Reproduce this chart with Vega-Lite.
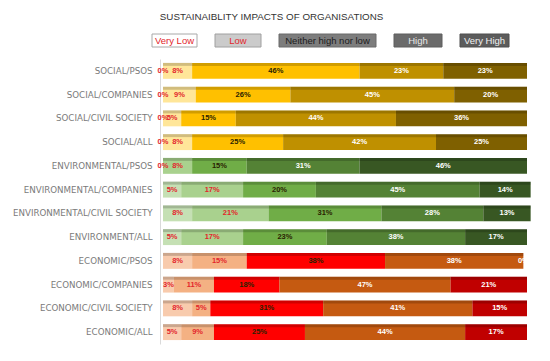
{
  "$schema": "https://vega.github.io/schema/vega-lite/v6.json",
  "padding": {"left": 12, "top": 11, "right": 5, "bottom": 5},
  "background": "white",
  "title": {"text": "SUSTAINAIBLITY IMPACTS OF ORGANISATIONS", "font": "Liberation Sans", "fontSize": 9.8, "fontWeight": "normal", "color": "#333333", "anchor": "middle", "offset": 12},
  "datasets": {
    "legend": [{"level": "Very Low"}, {"level": "Low"}, {"level": "Neither high nor low"}, {"level": "High"}, {"level": "Very High"}],
    "impacts": [
      {"row": "SOCIAL/PSOS", "group": "Social", "level": "Very Low", "n": 1, "value": 0},
      {"row": "SOCIAL/PSOS", "group": "Social", "level": "Low", "n": 2, "value": 8},
      {"row": "SOCIAL/PSOS", "group": "Social", "level": "Neither high nor low", "n": 3, "value": 46},
      {"row": "SOCIAL/PSOS", "group": "Social", "level": "High", "n": 4, "value": 23},
      {"row": "SOCIAL/PSOS", "group": "Social", "level": "Very High", "n": 5, "value": 23},
      {"row": "SOCIAL/COMPANIES", "group": "Social", "level": "Very Low", "n": 1, "value": 0},
      {"row": "SOCIAL/COMPANIES", "group": "Social", "level": "Low", "n": 2, "value": 9},
      {"row": "SOCIAL/COMPANIES", "group": "Social", "level": "Neither high nor low", "n": 3, "value": 26},
      {"row": "SOCIAL/COMPANIES", "group": "Social", "level": "High", "n": 4, "value": 45},
      {"row": "SOCIAL/COMPANIES", "group": "Social", "level": "Very High", "n": 5, "value": 20},
      {"row": "SOCIAL/CIVIL SOCIETY", "group": "Social", "level": "Very Low", "n": 1, "value": 0},
      {"row": "SOCIAL/CIVIL SOCIETY", "group": "Social", "level": "Low", "n": 2, "value": 5},
      {"row": "SOCIAL/CIVIL SOCIETY", "group": "Social", "level": "Neither high nor low", "n": 3, "value": 15},
      {"row": "SOCIAL/CIVIL SOCIETY", "group": "Social", "level": "High", "n": 4, "value": 44},
      {"row": "SOCIAL/CIVIL SOCIETY", "group": "Social", "level": "Very High", "n": 5, "value": 36},
      {"row": "SOCIAL/ALL", "group": "Social", "level": "Very Low", "n": 1, "value": 0},
      {"row": "SOCIAL/ALL", "group": "Social", "level": "Low", "n": 2, "value": 8},
      {"row": "SOCIAL/ALL", "group": "Social", "level": "Neither high nor low", "n": 3, "value": 25},
      {"row": "SOCIAL/ALL", "group": "Social", "level": "High", "n": 4, "value": 42},
      {"row": "SOCIAL/ALL", "group": "Social", "level": "Very High", "n": 5, "value": 25},
      {"row": "ENVIRONMENTAL/PSOS", "group": "Environmental", "level": "Very Low", "n": 1, "value": 0},
      {"row": "ENVIRONMENTAL/PSOS", "group": "Environmental", "level": "Low", "n": 2, "value": 8},
      {"row": "ENVIRONMENTAL/PSOS", "group": "Environmental", "level": "Neither high nor low", "n": 3, "value": 15},
      {"row": "ENVIRONMENTAL/PSOS", "group": "Environmental", "level": "High", "n": 4, "value": 31},
      {"row": "ENVIRONMENTAL/PSOS", "group": "Environmental", "level": "Very High", "n": 5, "value": 46},
      {"row": "ENVIRONMENTAL/COMPANIES", "group": "Environmental", "level": "Very Low", "n": 1, "value": 5},
      {"row": "ENVIRONMENTAL/COMPANIES", "group": "Environmental", "level": "Low", "n": 2, "value": 17},
      {"row": "ENVIRONMENTAL/COMPANIES", "group": "Environmental", "level": "Neither high nor low", "n": 3, "value": 20},
      {"row": "ENVIRONMENTAL/COMPANIES", "group": "Environmental", "level": "High", "n": 4, "value": 45},
      {"row": "ENVIRONMENTAL/COMPANIES", "group": "Environmental", "level": "Very High", "n": 5, "value": 14},
      {"row": "ENVIRONMENTAL/CIVIL SOCIETY", "group": "Environmental", "level": "Very Low", "n": 1, "value": 8},
      {"row": "ENVIRONMENTAL/CIVIL SOCIETY", "group": "Environmental", "level": "Low", "n": 2, "value": 21},
      {"row": "ENVIRONMENTAL/CIVIL SOCIETY", "group": "Environmental", "level": "Neither high nor low", "n": 3, "value": 31},
      {"row": "ENVIRONMENTAL/CIVIL SOCIETY", "group": "Environmental", "level": "High", "n": 4, "value": 28},
      {"row": "ENVIRONMENTAL/CIVIL SOCIETY", "group": "Environmental", "level": "Very High", "n": 5, "value": 13},
      {"row": "ENVIRONMENT/ALL", "group": "Environmental", "level": "Very Low", "n": 1, "value": 5},
      {"row": "ENVIRONMENT/ALL", "group": "Environmental", "level": "Low", "n": 2, "value": 17},
      {"row": "ENVIRONMENT/ALL", "group": "Environmental", "level": "Neither high nor low", "n": 3, "value": 23},
      {"row": "ENVIRONMENT/ALL", "group": "Environmental", "level": "High", "n": 4, "value": 38},
      {"row": "ENVIRONMENT/ALL", "group": "Environmental", "level": "Very High", "n": 5, "value": 17},
      {"row": "ECONOMIC/PSOS", "group": "Economic", "level": "Very Low", "n": 1, "value": 8},
      {"row": "ECONOMIC/PSOS", "group": "Economic", "level": "Low", "n": 2, "value": 15},
      {"row": "ECONOMIC/PSOS", "group": "Economic", "level": "Neither high nor low", "n": 3, "value": 38},
      {"row": "ECONOMIC/PSOS", "group": "Economic", "level": "High", "n": 4, "value": 38},
      {"row": "ECONOMIC/PSOS", "group": "Economic", "level": "Very High", "n": 5, "value": 0},
      {"row": "ECONOMIC/COMPANIES", "group": "Economic", "level": "Very Low", "n": 1, "value": 3},
      {"row": "ECONOMIC/COMPANIES", "group": "Economic", "level": "Low", "n": 2, "value": 11},
      {"row": "ECONOMIC/COMPANIES", "group": "Economic", "level": "Neither high nor low", "n": 3, "value": 18},
      {"row": "ECONOMIC/COMPANIES", "group": "Economic", "level": "High", "n": 4, "value": 47},
      {"row": "ECONOMIC/COMPANIES", "group": "Economic", "level": "Very High", "n": 5, "value": 21},
      {"row": "ECONOMIC/CIVIL SOCIETY", "group": "Economic", "level": "Very Low", "n": 1, "value": 8},
      {"row": "ECONOMIC/CIVIL SOCIETY", "group": "Economic", "level": "Low", "n": 2, "value": 5},
      {"row": "ECONOMIC/CIVIL SOCIETY", "group": "Economic", "level": "Neither high nor low", "n": 3, "value": 31},
      {"row": "ECONOMIC/CIVIL SOCIETY", "group": "Economic", "level": "High", "n": 4, "value": 41},
      {"row": "ECONOMIC/CIVIL SOCIETY", "group": "Economic", "level": "Very High", "n": 5, "value": 15},
      {"row": "ECONOMIC/ALL", "group": "Economic", "level": "Very Low", "n": 1, "value": 5},
      {"row": "ECONOMIC/ALL", "group": "Economic", "level": "Low", "n": 2, "value": 9},
      {"row": "ECONOMIC/ALL", "group": "Economic", "level": "Neither high nor low", "n": 3, "value": 25},
      {"row": "ECONOMIC/ALL", "group": "Economic", "level": "High", "n": 4, "value": 44},
      {"row": "ECONOMIC/ALL", "group": "Economic", "level": "Very High", "n": 5, "value": 17}
    ]
  },
  "spacing": 11,
  "vconcat": [
    {
      "spacing": 6,
      "hconcat": [
        {"width": 45, "height": 13, "data": {"name": "legend"}, "transform": [{"filter": "datum.level == 'Very Low'"}],
          "encoding": {
            "x": {"field": "level", "type": "nominal", "axis": null, "scale": {"paddingInner": 0, "paddingOuter": 0}},
            "y": {"field": "level", "type": "nominal", "axis": null, "scale": {"paddingInner": 0, "paddingOuter": 0}}
          },
          "layer": [
            {"mark": {"type": "rect", "fill": "#ffffff", "stroke": "#a8a8a8", "strokeWidth": 1, "xOffset": -11}},
            {"mark": {"type": "text", "font": "Liberation Sans", "fontSize": 9.5, "color": "#e3262c", "xOffset": -11}, "encoding": {"text": {"field": "level"}}}
          ]},
        {"width": 46, "height": 13, "data": {"name": "legend"}, "transform": [{"filter": "datum.level == 'Low'"}],
          "encoding": {
            "x": {"field": "level", "type": "nominal", "axis": null, "scale": {"paddingInner": 0, "paddingOuter": 0}},
            "y": {"field": "level", "type": "nominal", "axis": null, "scale": {"paddingInner": 0, "paddingOuter": 0}}
          },
          "layer": [
            {"mark": {"type": "rect", "fill": "#cbcbcb", "stroke": "#a0a0a0", "strokeWidth": 1, "xOffset": -11}},
            {"mark": {"type": "text", "font": "Liberation Sans", "fontSize": 9.5, "color": "#e3262c", "xOffset": -11}, "encoding": {"text": {"field": "level"}}}
          ]},
        {"width": 97, "height": 13, "data": {"name": "legend"}, "transform": [{"filter": "datum.level == 'Neither high nor low'"}],
          "encoding": {
            "x": {"field": "level", "type": "nominal", "axis": null, "scale": {"paddingInner": 0, "paddingOuter": 0}},
            "y": {"field": "level", "type": "nominal", "axis": null, "scale": {"paddingInner": 0, "paddingOuter": 0}}
          },
          "layer": [
            {"mark": {"type": "rect", "fill": "#7d7d7d", "stroke": "#6a6a6a", "strokeWidth": 1, "xOffset": -11}},
            {"mark": {"type": "text", "font": "Liberation Sans", "fontSize": 9.5, "color": "#1c1c1c", "xOffset": -11}, "encoding": {"text": {"field": "level"}}}
          ]},
        {"width": 48, "height": 13, "data": {"name": "legend"}, "transform": [{"filter": "datum.level == 'High'"}],
          "encoding": {
            "x": {"field": "level", "type": "nominal", "axis": null, "scale": {"paddingInner": 0, "paddingOuter": 0}},
            "y": {"field": "level", "type": "nominal", "axis": null, "scale": {"paddingInner": 0, "paddingOuter": 0}}
          },
          "layer": [
            {"mark": {"type": "rect", "fill": "#6b6b6b", "stroke": "#5e5e5e", "strokeWidth": 1, "xOffset": -11}},
            {"mark": {"type": "text", "font": "Liberation Sans", "fontSize": 9.5, "color": "#e8e8e8", "xOffset": -11}, "encoding": {"text": {"field": "level"}}}
          ]},
        {"width": 49, "height": 13, "data": {"name": "legend"}, "transform": [{"filter": "datum.level == 'Very High'"}],
          "encoding": {
            "x": {"field": "level", "type": "nominal", "axis": null, "scale": {"paddingInner": 0, "paddingOuter": 0}},
            "y": {"field": "level", "type": "nominal", "axis": null, "scale": {"paddingInner": 0, "paddingOuter": 0}}
          },
          "layer": [
            {"mark": {"type": "rect", "fill": "#5c5c5c", "stroke": "#4e4e4e", "strokeWidth": 1, "xOffset": -11}},
            {"mark": {"type": "text", "font": "Liberation Sans", "fontSize": 9.5, "color": "#f2f2f2", "xOffset": -11}, "encoding": {"text": {"field": "level"}}}
          ]}
      ]
    },
    {
      "width": 364,
      "height": 285,
      "data": {"name": "impacts"},
      "transform": [
        {"stack": "value", "groupby": ["row"], "sort": [{"field": "n", "order": "ascending"}], "as": ["x0", "x1"]},
        {"calculate": "(datum.x0 + datum.x1) / 2", "as": "xmid"}
      ],
      "encoding": {
        "y": {"field": "row", "type": "nominal", "title": null,
          "sort": ["SOCIAL/PSOS", "SOCIAL/COMPANIES", "SOCIAL/CIVIL SOCIETY", "SOCIAL/ALL", "ENVIRONMENTAL/PSOS", "ENVIRONMENTAL/COMPANIES", "ENVIRONMENTAL/CIVIL SOCIETY", "ENVIRONMENT/ALL", "ECONOMIC/PSOS", "ECONOMIC/COMPANIES", "ECONOMIC/CIVIL SOCIETY", "ECONOMIC/ALL"],
          "scale": {"paddingInner": 0.33, "paddingOuter": 0.165},
          "axis": {"labelFont": "DejaVu Sans", "labelFontSize": 8.7, "labelColor": "#7a7a7a", "ticks": false, "domain": true, "domainColor": "#dadada", "labelPadding": 8, "offset": 3}}
      },
      "layer": [
        {"transform": [{"filter": "datum.group == 'Social'"}], "mark": {"type": "bar"},
          "encoding": {"x": {"field": "x0", "type": "quantitative", "scale": {"domain": [0, 100], "nice": false}, "axis": null}, "x2": {"field": "x1"}, "color": {"field": "level", "type": "nominal", "legend": null, "scale": {"domain": ["Very Low", "Low", "Neither high nor low", "High", "Very High"], "range": ["#fff2cc", "#ffe699", "#ffc000", "#bf9000", "#7f6000"]}}}},
        {"transform": [{"filter": "datum.group == 'Environmental'"}], "mark": {"type": "bar"},
          "encoding": {"x": {"field": "x0", "type": "quantitative"}, "x2": {"field": "x1"}, "color": {"field": "level", "type": "nominal", "legend": null, "scale": {"domain": ["Very Low", "Low", "Neither high nor low", "High", "Very High"], "range": ["#c5e0b4", "#a9d18e", "#70ad47", "#548235", "#385723"]}}}},
        {"transform": [{"filter": "datum.group == 'Economic'"}], "mark": {"type": "bar"},
          "encoding": {"x": {"field": "x0", "type": "quantitative"}, "x2": {"field": "x1"}, "color": {"field": "level", "type": "nominal", "legend": null, "scale": {"domain": ["Very Low", "Low", "Neither high nor low", "High", "Very High"], "range": ["#f8cbad", "#f4b183", "#ff0000", "#c55a11", "#c00000"]}}}},
        {"mark": {"type": "bar", "color": "#000000", "opacity": 0.18, "height": 3, "yOffset": -6.5}, "encoding": {"x": {"field": "x0", "type": "quantitative"}, "x2": {"field": "x1"}}},
        {"mark": {"type": "text", "font": "Liberation Sans", "fontWeight": "bold", "fontSize": 7.5, "text": {"expr": "datum.value + '%'"}},
          "encoding": {
            "x": {"field": "xmid", "type": "quantitative"},
            "color": {"field": "level", "type": "nominal", "legend": null, "scale": {"domain": ["Very Low", "Low", "Neither high nor low", "High", "Very High"], "range": ["#e3262c", "#e3262c", "#2a2200", "#ffffff", "#ffffff"]}}}}
      ],
      "resolve": {"scale": {"color": "independent"}}
    }
  ],
  "config": {"view": {"stroke": null}}
}
